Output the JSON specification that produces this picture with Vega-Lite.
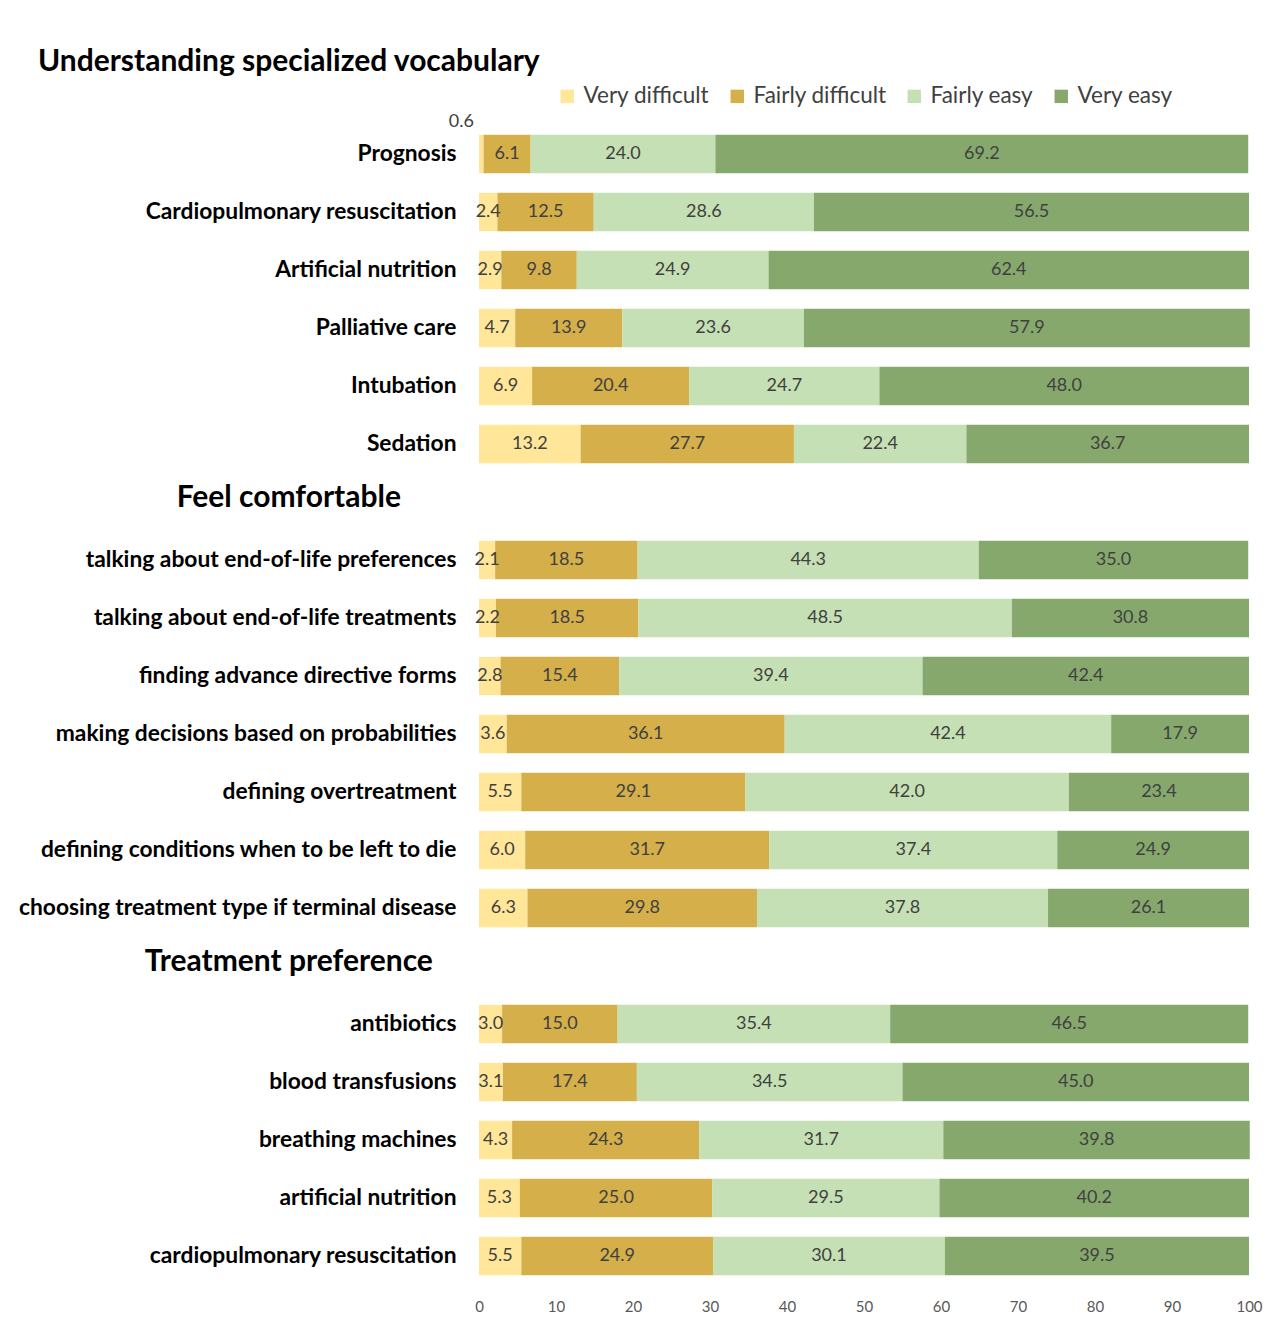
{
  "$schema": "https://vega.github.io/schema/vega-lite/v6.json",
  "width": 770,
  "height": 1218,
  "padding": {"left": 18, "top": 47, "right": 5, "bottom": 5},
  "background": "white",
  "config": {"view": {"stroke": null}, "font": "Lato"},
  "datasets": {
    "bars": [
      {"item": "Prognosis", "level": "Very difficult", "value": 0.6},
      {"item": "Prognosis", "level": "Fairly difficult", "value": 6.1},
      {"item": "Prognosis", "level": "Fairly easy", "value": 24.0},
      {"item": "Prognosis", "level": "Very easy", "value": 69.2},
      {"item": "Cardiopulmonary resuscitation", "level": "Very difficult", "value": 2.4},
      {"item": "Cardiopulmonary resuscitation", "level": "Fairly difficult", "value": 12.5},
      {"item": "Cardiopulmonary resuscitation", "level": "Fairly easy", "value": 28.6},
      {"item": "Cardiopulmonary resuscitation", "level": "Very easy", "value": 56.5},
      {"item": "Artificial nutrition", "level": "Very difficult", "value": 2.9},
      {"item": "Artificial nutrition", "level": "Fairly difficult", "value": 9.8},
      {"item": "Artificial nutrition", "level": "Fairly easy", "value": 24.9},
      {"item": "Artificial nutrition", "level": "Very easy", "value": 62.4},
      {"item": "Palliative care", "level": "Very difficult", "value": 4.7},
      {"item": "Palliative care", "level": "Fairly difficult", "value": 13.9},
      {"item": "Palliative care", "level": "Fairly easy", "value": 23.6},
      {"item": "Palliative care", "level": "Very easy", "value": 57.9},
      {"item": "Intubation", "level": "Very difficult", "value": 6.9},
      {"item": "Intubation", "level": "Fairly difficult", "value": 20.4},
      {"item": "Intubation", "level": "Fairly easy", "value": 24.7},
      {"item": "Intubation", "level": "Very easy", "value": 48.0},
      {"item": "Sedation", "level": "Very difficult", "value": 13.2},
      {"item": "Sedation", "level": "Fairly difficult", "value": 27.7},
      {"item": "Sedation", "level": "Fairly easy", "value": 22.4},
      {"item": "Sedation", "level": "Very easy", "value": 36.7},
      {"item": "talking about end-of-life preferences", "level": "Very difficult", "value": 2.1},
      {"item": "talking about end-of-life preferences", "level": "Fairly difficult", "value": 18.5},
      {"item": "talking about end-of-life preferences", "level": "Fairly easy", "value": 44.3},
      {"item": "talking about end-of-life preferences", "level": "Very easy", "value": 35.0},
      {"item": "talking about end-of-life treatments", "level": "Very difficult", "value": 2.2},
      {"item": "talking about end-of-life treatments", "level": "Fairly difficult", "value": 18.5},
      {"item": "talking about end-of-life treatments", "level": "Fairly easy", "value": 48.5},
      {"item": "talking about end-of-life treatments", "level": "Very easy", "value": 30.8},
      {"item": "finding advance directive forms", "level": "Very difficult", "value": 2.8},
      {"item": "finding advance directive forms", "level": "Fairly difficult", "value": 15.4},
      {"item": "finding advance directive forms", "level": "Fairly easy", "value": 39.4},
      {"item": "finding advance directive forms", "level": "Very easy", "value": 42.4},
      {"item": "making decisions based on probabilities", "level": "Very difficult", "value": 3.6},
      {"item": "making decisions based on probabilities", "level": "Fairly difficult", "value": 36.1},
      {"item": "making decisions based on probabilities", "level": "Fairly easy", "value": 42.4},
      {"item": "making decisions based on probabilities", "level": "Very easy", "value": 17.9},
      {"item": "defining overtreatment", "level": "Very difficult", "value": 5.5},
      {"item": "defining overtreatment", "level": "Fairly difficult", "value": 29.1},
      {"item": "defining overtreatment", "level": "Fairly easy", "value": 42.0},
      {"item": "defining overtreatment", "level": "Very easy", "value": 23.4},
      {"item": "defining conditions when to be left to die", "level": "Very difficult", "value": 6.0},
      {"item": "defining conditions when to be left to die", "level": "Fairly difficult", "value": 31.7},
      {"item": "defining conditions when to be left to die", "level": "Fairly easy", "value": 37.4},
      {"item": "defining conditions when to be left to die", "level": "Very easy", "value": 24.9},
      {"item": "choosing treatment type if terminal disease", "level": "Very difficult", "value": 6.3},
      {"item": "choosing treatment type if terminal disease", "level": "Fairly difficult", "value": 29.8},
      {"item": "choosing treatment type if terminal disease", "level": "Fairly easy", "value": 37.8},
      {"item": "choosing treatment type if terminal disease", "level": "Very easy", "value": 26.1},
      {"item": "antibiotics", "level": "Very difficult", "value": 3.0},
      {"item": "antibiotics", "level": "Fairly difficult", "value": 15.0},
      {"item": "antibiotics", "level": "Fairly easy", "value": 35.4},
      {"item": "antibiotics", "level": "Very easy", "value": 46.5},
      {"item": "blood transfusions", "level": "Very difficult", "value": 3.1},
      {"item": "blood transfusions", "level": "Fairly difficult", "value": 17.4},
      {"item": "blood transfusions", "level": "Fairly easy", "value": 34.5},
      {"item": "blood transfusions", "level": "Very easy", "value": 45.0},
      {"item": "breathing machines", "level": "Very difficult", "value": 4.3},
      {"item": "breathing machines", "level": "Fairly difficult", "value": 24.3},
      {"item": "breathing machines", "level": "Fairly easy", "value": 31.7},
      {"item": "breathing machines", "level": "Very easy", "value": 39.8},
      {"item": "artificial nutrition", "level": "Very difficult", "value": 5.3},
      {"item": "artificial nutrition", "level": "Fairly difficult", "value": 25.0},
      {"item": "artificial nutrition", "level": "Fairly easy", "value": 29.5},
      {"item": "artificial nutrition", "level": "Very easy", "value": 40.2},
      {"item": "cardiopulmonary resuscitation", "level": "Very difficult", "value": 5.5},
      {"item": "cardiopulmonary resuscitation", "level": "Fairly difficult", "value": 24.9},
      {"item": "cardiopulmonary resuscitation", "level": "Fairly easy", "value": 30.1},
      {"item": "cardiopulmonary resuscitation", "level": "Very easy", "value": 39.5}
    ],
    "headers": [
      {"item": "h0", "label": "Understanding specialized vocabulary"},
      {"item": "h1", "label": "Feel comfortable"},
      {"item": "h2", "label": "Treatment preference"}
    ]
  },
  "encoding": {
    "y": {
      "field": "item",
      "type": "nominal",
      "title": null,
      "scale": {
        "domain": ["h0", "Prognosis", "Cardiopulmonary resuscitation", "Artificial nutrition", "Palliative care", "Intubation", "Sedation", "h1", "talking about end-of-life preferences", "talking about end-of-life treatments", "finding advance directive forms", "making decisions based on probabilities", "defining overtreatment", "defining conditions when to be left to die", "choosing treatment type if terminal disease", "h2", "antibiotics", "blood transfusions", "breathing machines", "artificial nutrition", "cardiopulmonary resuscitation"],
        "paddingInner": 0.34,
        "paddingOuter": 0.17
      },
      "axis": {
        "domain": false,
        "ticks": false,
        "grid": false,
        "labelLimit": 0,
        "labelFontSize": 22.8,
        "labelFontWeight": "bold",
        "labelColor": "#000000",
        "labelFont": "Lato",
        "labelPadding": 23,
        "labelExpr": "indexof(['h0','h1','h2'], datum.value) >= 0 ? '' : datum.value"
      }
    }
  },
  "layer": [
    {
      "data": {"name": "bars"},
      "transform": [
        {"calculate": "indexof(['Very difficult','Fairly difficult','Fairly easy','Very easy'], datum.level)", "as": "ord"},
        {"stack": "value", "groupby": ["item"], "sort": [{"field": "ord", "order": "ascending"}], "as": ["x0", "x1"]},
        {"calculate": "(datum.x0 + datum.x1) / 2", "as": "mid"}
      ],
      "layer": [
        {
          "mark": {"type": "bar"},
          "encoding": {
            "x": {
              "field": "x0",
              "type": "quantitative",
              "title": null,
              "scale": {"domain": [0, 100], "nice": false, "zero": false},
              "axis": {
                "values": [0, 10, 20, 30, 40, 50, 60, 70, 80, 90, 100],
                "domain": false,
                "ticks": false,
                "grid": false,
                "labelFlush": false,
                "labelFontSize": 15,
                "labelColor": "#595959",
                "labelFont": "Lato",
                "labelPadding": 14
              }
            },
            "x2": {"field": "x1"},
            "color": {
              "field": "level",
              "type": "nominal",
              "scale": {
                "domain": ["Very difficult", "Fairly difficult", "Fairly easy", "Very easy"],
                "range": ["#FFE699", "#D4AF4A", "#C5E0B4", "#86A86D"]
              },
              "legend": {
                "title": null,
                "orient": "none",
                "direction": "horizontal",
                "legendX": 77,
                "legendY": 18,
                "symbolType": "square",
                "symbolSize": 180,
                "symbolStrokeWidth": 0,
                "labelFontSize": 22.5,
                "labelColor": "#404040",
                "labelFont": "Lato",
                "columnPadding": 16,
                "labelOffset": 5
              }
            }
          }
        },
        {
          "transform": [{"filter": "datum.value >= 1"}],
          "mark": {"type": "text", "fontSize": 18, "color": "#404040", "font": "Lato"},
          "encoding": {
            "x": {"field": "mid", "type": "quantitative"},
            "text": {"field": "value", "type": "quantitative", "format": ".1f"}
          }
        },
        {
          "transform": [{"filter": "datum.value < 1"}],
          "mark": {"type": "text", "fontSize": 18, "color": "#404040", "font": "Lato", "dx": -20, "dy": -32},
          "encoding": {
            "x": {"field": "mid", "type": "quantitative"},
            "text": {"field": "value", "type": "quantitative", "format": ".1f"}
          }
        }
      ]
    },
    {
      "data": {"name": "headers"},
      "transform": [{"filter": "datum.item == 'h0'"}],
      "mark": {"type": "text", "fontSize": 30, "fontWeight": "bold", "color": "#000000", "font": "Lato", "align": "center", "dy": -34},
      "encoding": {
        "x": {"datum": -24.7, "type": "quantitative"},
        "text": {"field": "label"}
      }
    },
    {
      "data": {"name": "headers"},
      "transform": [{"filter": "datum.item != 'h0'"}],
      "mark": {"type": "text", "fontSize": 30, "fontWeight": "bold", "color": "#000000", "font": "Lato", "align": "center", "dy": -4},
      "encoding": {
        "x": {"datum": -24.7, "type": "quantitative"},
        "text": {"field": "label"}
      }
    }
  ]
}
